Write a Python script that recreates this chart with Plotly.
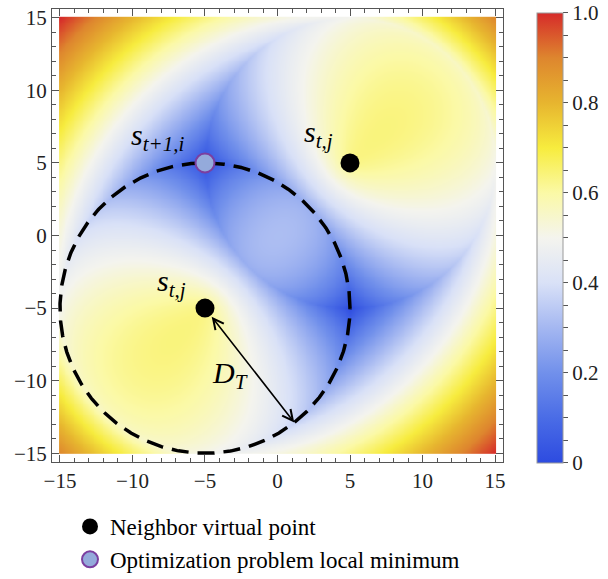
import numpy as np
import plotly.graph_objects as go

# Neighbour virtual points s_{t,j} and the local minimum s_{t+1,i}
neighbor_x = [5.0, -5.0]
neighbor_y = [5.0, -5.0]
local_min_x = [-5.0]
local_min_y = [5.0]

# Target distance D_T and the neighbour whose D_T-circle is drawn
D_T = 10.0
circle_center = (-5.0, -5.0)
arrow_angle_deg = -52.0

# Cost landscape: sum over neighbours of |dist - D_T|^p, scaled to [0, 1]
cost_exponent = 0.8
grid_x = np.linspace(-15, 15, 241)
grid_y = np.linspace(-15, 15, 241)

# Colour scale ticks
cbar_vals = [round(0.05 * k, 2) for k in range(21)]
cbar_labels = {0.0: "0", 0.2: "0.2", 0.4: "0.4", 0.6: "0.6", 0.8: "0.8", 1.0: "1.0"}
axis_ticks = [-15, -10, -5, 0, 5, 10, 15]

GX, GY = np.meshgrid(grid_x, grid_y)
cost = np.zeros_like(GX)
for sx, sy in zip(neighbor_x, neighbor_y):
    cost += np.abs(np.hypot(GX - sx, GY - sy) - D_T) ** cost_exponent
cost = (cost - cost.min()) / (cost.max() - cost.min())

colorscale = [
    [0.00, "#2d4be0"],
    [0.10, "#4a6ce6"],
    [0.20, "#7190eb"],
    [0.30, "#a4b7f1"],
    [0.40, "#d9e1f7"],
    [0.50, "#f4f4ee"],
    [0.60, "#fbf9a6"],
    [0.70, "#f7ec3e"],
    [0.80, "#e7b52f"],
    [0.90, "#de862e"],
    [1.00, "#d62b2a"],
]

serif = "Liberation Serif"
fig = go.Figure()

fig.add_trace(go.Heatmap(
    x=grid_x, y=grid_y, z=cost, zmin=0, zmax=1, zsmooth="best",
    colorscale=colorscale, hoverinfo="skip",
    colorbar=dict(
        x=1.0754, xanchor="left", xpad=0,
        y=0.4945, yanchor="middle", ypad=0,
        len=450, lenmode="pixels", thickness=26,
        outlinecolor="#9a9a9a", outlinewidth=1,
        tickmode="array", tickvals=cbar_vals,
        ticktext=[cbar_labels.get(v, "") for v in cbar_vals],
        ticks="outside", ticklen=5, tickcolor="#555",
        ticklabeloverflow="allow",
        tickfont=dict(family=serif, size=21, color="#222"),
    ),
))

# Dashed D_T circle around one neighbour
theta = np.linspace(0, 2 * np.pi, 721)
fig.add_trace(go.Scatter(
    x=circle_center[0] + D_T * np.cos(theta),
    y=circle_center[1] + D_T * np.sin(theta),
    mode="lines", line=dict(color="black", width=3.5, dash="17px,9px"),
    showlegend=False, hoverinfo="skip",
))

fig.add_trace(go.Scatter(
    x=neighbor_x, y=neighbor_y, mode="markers",
    marker=dict(size=19, color="black"),
    name="Neighbor virtual point", legendgroup="a",
))
fig.add_trace(go.Scatter(
    x=local_min_x, y=local_min_y, mode="markers",
    marker=dict(size=19, color="#94aadb", line=dict(color="#7b3fa0", width=2)),
    name="Optimization problem local minimum", legendgroup="b",
))

label_font = dict(family=serif, size=30, color="black")
fig.add_annotation(x=2.8, y=7.0, text="<i>s</i><sub><i>t,j</i></sub>",
                   showarrow=False, font=label_font)
fig.add_annotation(x=-7.3, y=-3.3, text="<i>s</i><sub><i>t,j</i></sub>",
                   showarrow=False, font=label_font)
fig.add_annotation(x=-8.3, y=6.8, text="<i>s</i><sub><i>t+1,i</i></sub>",
                   showarrow=False, font=label_font)
fig.add_annotation(x=-3.3, y=-9.6, text="<i>D</i><sub><i>T</i></sub>",
                   showarrow=False, font=label_font)

# Double-headed D_T arrow from the neighbour to its circle
ang = np.deg2rad(arrow_angle_deg)
fig.add_annotation(
    x=circle_center[0] + D_T * np.cos(ang), y=circle_center[1] + D_T * np.sin(ang),
    ax=circle_center[0], ay=circle_center[1], axref="x", ayref="y",
    text="", showarrow=True, arrowside="end+start",
    arrowhead=5, startarrowhead=5, arrowsize=1.3, startarrowsize=1.3,
    arrowwidth=1.6, arrowcolor="black", startstandoff=9, standoff=0,
)

axis_common = dict(
    tickmode="array", tickvals=axis_ticks,
    ticks="inside", ticklen=7, tickcolor="#555", tickwidth=1,
    minor=dict(dtick=1, tick0=-15, ticks="inside", ticklen=4, tickcolor="#555"),
    showline=True, linecolor="#555", linewidth=1, mirror="allticks",
    showgrid=False, zeroline=False, automargin=False,
    tickfont=dict(family=serif, size=21, color="#222"),
)
fig.update_xaxes(range=[-15.55, 15.55], **axis_common)
fig.update_yaxes(range=[-15.6, 15.6], **axis_common)

fig.update_layout(
    width=608, height=579,
    margin=dict(l=52, r=105, t=9, b=117, autoexpand=False),
    paper_bgcolor="white", plot_bgcolor="white",
    font=dict(family=serif),
    legend=dict(
        xref="container", yref="container",
        x=70 / 608, y=1 - 505 / 579, xanchor="left", yanchor="top",
        font=dict(family=serif, size=23, color="black"),
        bgcolor="rgba(0,0,0,0)", itemsizing="trace", tracegroupgap=0,
    ),
)

fig.write_html("out.html")
